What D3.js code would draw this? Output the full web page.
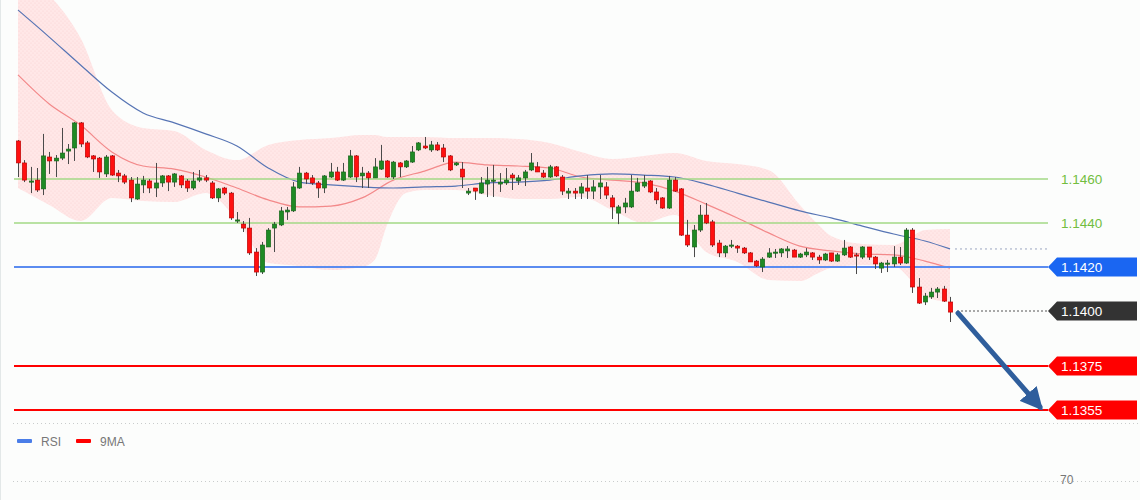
<!DOCTYPE html>
<html><head><meta charset="utf-8">
<script src="https://cdn.jsdelivr.net/npm/d3@7/dist/d3.min.js"></script>
<style>
html,body{margin:0;padding:0;background:#fcfdfc;}
svg{display:block;font-family:"Liberation Sans",Arial,sans-serif;}
</style></head>
<body><svg id="c" width="1140" height="500"></svg>
<script>
const open = [
1.14773,1.14673,1.14586,1.14595,1.14555,1.14700,1.14682,1.14695,1.14727,1.14741,
1.14855,1.14764,1.14705,1.14695,1.14623,1.14705,1.14627,1.14614,1.14595,1.14509,
1.14573,1.14591,1.14559,1.14582,1.14614,1.14586,1.14614,1.14591,1.14559,1.14595,
1.14605,1.14582,1.14514,1.14559,1.14536,1.14409,1.14395,1.14377,1.14268,1.14177,
1.14291,1.14377,1.14391,1.14450,1.14455,1.14559,1.14627,1.14605,1.14582,1.14559,
1.14609,1.14632,1.14595,1.14609,1.14705,1.14614,1.14627,1.14605,1.14645,1.14682,
1.14609,1.14673,1.14655,1.14677,1.14732,1.14750,1.14732,1.14755,1.14741,1.14705,
1.14664,1.14645,1.14536,1.14559,1.14536,1.14577,1.14591,1.14577,1.14582,1.14618,
1.14591,1.14605,1.14641,1.14655,1.14627,1.14609,1.14655,1.14609,1.14536,1.14545,
1.14536,1.14559,1.14545,1.14564,1.14564,1.14514,1.14445,1.14473,1.14473,1.14545,
1.14568,1.14591,1.14541,1.14514,1.14468,1.14595,1.14555,1.14345,1.14291,1.14368,
1.14436,1.14405,1.14309,1.14264,1.14295,1.14295,1.14286,1.14264,1.14227,1.14200,
1.14245,1.14264,1.14264,1.14273,1.14277,1.14245,1.14255,1.14264,1.14245,1.14232,
1.14264,1.14227,1.14255,1.14291,1.14255,1.14245,1.14291,1.14245,1.14195,1.14214,
1.14214,1.14245,1.14218,1.14368,1.14109,1.14041,1.14064,1.14086,1.14100,1.14041];
const high = [
1.14777,1.14686,1.14655,1.14650,1.14805,1.14723,1.14709,1.14832,1.14759,1.14859,
1.14859,1.14773,1.14709,1.14700,1.14709,1.14709,1.14641,1.14623,1.14609,1.14609,
1.14614,1.14600,1.14673,1.14618,1.14618,1.14627,1.14618,1.14600,1.14632,1.14641,
1.14618,1.14591,1.14559,1.14564,1.14541,1.14450,1.14409,1.14423,1.14286,1.14314,
1.14377,1.14405,1.14473,1.14473,1.14586,1.14655,1.14632,1.14618,1.14591,1.14618,
1.14673,1.14655,1.14673,1.14732,1.14709,1.14655,1.14636,1.14695,1.14755,1.14686,
1.14682,1.14677,1.14686,1.14750,1.14768,1.14791,1.14773,1.14768,1.14759,1.14709,
1.14677,1.14677,1.14559,1.14559,1.14609,1.14655,1.14664,1.14627,1.14650,1.14627,
1.14618,1.14641,1.14718,1.14677,1.14641,1.14664,1.14659,1.14618,1.14559,1.14559,
1.14582,1.14618,1.14595,1.14618,1.14586,1.14527,1.14482,1.14514,1.14618,1.14605,
1.14618,1.14595,1.14559,1.14518,1.14614,1.14609,1.14559,1.14414,1.14391,1.14482,
1.14491,1.14414,1.14323,1.14300,1.14323,1.14300,1.14291,1.14268,1.14232,1.14245,
1.14286,1.14282,1.14286,1.14295,1.14282,1.14264,1.14286,1.14268,1.14255,1.14264,
1.14264,1.14264,1.14323,1.14295,1.14264,1.14295,1.14291,1.14250,1.14223,1.14232,
1.14295,1.14291,1.14377,1.14377,1.14150,1.14082,1.14105,1.14109,1.14114,1.14064];
const low = [
1.14609,1.14586,1.14536,1.14541,1.14527,1.14623,1.14609,1.14686,1.14668,1.14682,
1.14745,1.14695,1.14632,1.14605,1.14609,1.14614,1.14586,1.14577,1.14495,1.14505,
1.14536,1.14536,1.14518,1.14564,1.14545,1.14564,1.14559,1.14541,1.14550,1.14586,
1.14586,1.14509,1.14495,1.14527,1.14414,1.14400,1.14359,1.14255,1.14159,1.14168,
1.14291,1.14268,1.14386,1.14414,1.14450,1.14555,1.14577,1.14573,1.14514,1.14536,
1.14605,1.14591,1.14591,1.14605,1.14586,1.14559,1.14559,1.14605,1.14641,1.14605,
1.14600,1.14609,1.14650,1.14673,1.14727,1.14736,1.14723,1.14727,1.14677,1.14636,
1.14659,1.14559,1.14527,1.14505,1.14532,1.14518,1.14518,1.14541,1.14573,1.14550,
1.14573,1.14568,1.14636,1.14632,1.14605,1.14605,1.14609,1.14527,1.14509,1.14509,
1.14509,1.14509,1.14509,1.14509,1.14509,1.14418,1.14395,1.14445,1.14468,1.14541,
1.14559,1.14536,1.14486,1.14464,1.14464,1.14541,1.14341,1.14291,1.14245,1.14359,
1.14395,1.14291,1.14245,1.14245,1.14286,1.14264,1.14259,1.14223,1.14200,1.14177,
1.14241,1.14241,1.14245,1.14241,1.14245,1.14241,1.14245,1.14232,1.14214,1.14227,
1.14223,1.14223,1.14250,1.14241,1.14168,1.14236,1.14232,1.14191,1.14173,1.14177,
1.14200,1.14209,1.14214,1.14082,1.14032,1.14027,1.14055,1.14059,1.14041,1.13950];
const close = [
1.14673,1.14595,1.14591,1.14550,1.14705,1.14682,1.14695,1.14718,1.14736,1.14855,
1.14759,1.14700,1.14691,1.14632,1.14700,1.14618,1.14614,1.14586,1.14514,1.14577,
1.14595,1.14559,1.14582,1.14614,1.14586,1.14623,1.14573,1.14559,1.14591,1.14605,
1.14595,1.14514,1.14555,1.14536,1.14423,1.14414,1.14377,1.14264,1.14177,1.14300,
1.14368,1.14395,1.14455,1.14459,1.14564,1.14627,1.14600,1.14582,1.14559,1.14614,
1.14632,1.14595,1.14632,1.14705,1.14609,1.14627,1.14605,1.14655,1.14682,1.14609,
1.14677,1.14655,1.14682,1.14723,1.14764,1.14741,1.14755,1.14732,1.14700,1.14641,
1.14673,1.14609,1.14545,1.14545,1.14582,1.14595,1.14595,1.14586,1.14595,1.14605,
1.14605,1.14632,1.14673,1.14632,1.14609,1.14655,1.14614,1.14545,1.14545,1.14536,
1.14564,1.14545,1.14564,1.14582,1.14527,1.14473,1.14473,1.14491,1.14545,1.14582,
1.14586,1.14541,1.14505,1.14468,1.14595,1.14545,1.14345,1.14300,1.14368,1.14436,
1.14400,1.14300,1.14264,1.14295,1.14300,1.14286,1.14264,1.14223,1.14205,1.14236,
1.14264,1.14268,1.14282,1.14282,1.14245,1.14259,1.14268,1.14245,1.14232,1.14259,
1.14227,1.14255,1.14286,1.14245,1.14250,1.14291,1.14245,1.14214,1.14218,1.14218,
1.14245,1.14218,1.14368,1.14109,1.14036,1.14068,1.14086,1.14100,1.14045,1.13995];

// moving averages (read at sampled candle indices)
const maIdx = [0,5,10,15,20,25,30,35,40,45,50,55,60,65,70,75,80,85,90,95,100,105,110,115,120,125,130,135,140,145,149];
const slowMA = [1.15368,1.15245,1.15118,1.14995,1.14900,1.14855,1.14805,1.14750,1.14650,1.14586,1.14573,1.14564,1.14559,1.14564,1.14568,1.14582,1.14586,1.14595,1.14614,1.14623,1.14618,1.14609,1.14577,1.14536,1.14495,1.14455,1.14423,1.14386,1.14350,1.14318,1.14282];
const fastMA = [1.15073,1.14941,1.14845,1.14723,1.14659,1.14645,1.14609,1.14559,1.14505,1.14473,1.14477,1.14514,1.14595,1.14636,1.14677,1.14664,1.14659,1.14650,1.14609,1.14595,1.14582,1.14545,1.14486,1.14423,1.14355,1.14295,1.14273,1.14259,1.14255,1.14227,1.14195];

// Bollinger band (read at sampled candle indices)
const bandIdx = [0,5,10,15,20,25,30,35,40,45,50,55,57,59,62,65,70,75,80,85,90,95,100,105,110,115,120,125,128,130,135,140,143,145,149];
const bandUpper = [1.15550,1.15436,1.15241,1.14914,1.14832,1.14818,1.14732,1.14686,1.14755,1.14777,1.14786,1.14800,1.14800,1.14791,1.14791,1.14791,1.14786,1.14786,1.14782,1.14764,1.14723,1.14691,1.14705,1.14718,1.14682,1.14668,1.14641,1.14482,1.14391,1.14341,1.14305,1.14300,1.14341,1.14368,1.14373];
const bandLower = [1.14559,1.14482,1.14409,1.14514,1.14500,1.14495,1.14536,1.14414,1.14218,1.14205,1.14186,1.14200,1.14232,1.14391,1.14536,1.14550,1.14550,1.14527,1.14509,1.14509,1.14518,1.14459,1.14400,1.14436,1.14268,1.14223,1.14141,1.14136,1.14173,1.14195,1.14209,1.14205,1.14132,1.14064,1.14041];

// levels
const greenLevels = [1.1460, 1.1440];
const tagLevels = [
  {price:1.1420, label:"1.1420", color:"#1a66f2", line:"#5b8cf0", kind:"solid"},
  {price:1.1400, label:"1.1400", color:"#333333", line:"#555555", kind:"dot"},
  {price:1.1375, label:"1.1375", color:"#ff0000", line:"#ff0000", kind:"solid"},
  {price:1.1355, label:"1.1355", color:"#ff0000", line:"#ff0000", kind:"solid"}
];
const legendItems = [{name:"RSI", color:"#4a7de8"}, {name:"9MA", color:"#ff0000"}];
const rsiTick = "70";

const svg = d3.select("#c");
const W = 1140;
const n = close.length;
const x = d3.scaleLinear().domain([0, n-1]).range([18, 950]);
const y = d3.scaleLinear().domain([1.1355, 1.1460]).range([410, 179]);

// frame line
svg.append("line").attr("x1",0.5).attr("x2",0.5).attr("y1",0).attr("y2",500).attr("stroke","#e3e8e8");

// pattern for band
const defs = svg.append("defs");
const pat = defs.append("pattern").attr("id","dots").attr("width",4).attr("height",4).attr("patternUnits","userSpaceOnUse");
pat.append("rect").attr("width",4).attr("height",4).attr("fill","#ffe7e7");
pat.append("circle").attr("cx",1).attr("cy",1).attr("r",0.6).attr("fill","#fad3d3");
pat.append("circle").attr("cx",3).attr("cy",3).attr("r",0.6).attr("fill","#fad3d3");
defs.append("clipPath").attr("id","clip").append("rect").attr("x",0).attr("y",0).attr("width",W).attr("height",420);

const plot = svg.append("g").attr("clip-path","url(#clip)");

const bandData = bandIdx.map((i,k)=>({i, u:bandUpper[k], l:bandLower[k]}));
plot.append("path").datum(bandData)
  .attr("d", d3.area().x(d=>x(d.i)).y0(d=>y(d.l)).y1(d=>y(d.u)).curve(d3.curveMonotoneX))
  .attr("fill","url(#dots)");

// green levels
greenLevels.forEach(p=>{
  svg.append("line").attr("x1",14).attr("x2",1048).attr("y1",y(p)).attr("y2",y(p))
    .attr("stroke","#a3d886").attr("stroke-width",1.3);
  svg.append("text").attr("x",1061).attr("y",y(p)+4.5).attr("fill","#72bd3f")
    .attr("font-size",13.5).text(p.toFixed(4));
});

// MA lines
const lineGen = d3.line().x(d=>x(d[0])).y(d=>y(d[1])).curve(d3.curveMonotoneX);
plot.append("path").datum(maIdx.map((i,k)=>[i,fastMA[k]])).attr("d",lineGen)
  .attr("fill","none").attr("stroke","#f3898a").attr("stroke-width",1.2);
plot.append("path").datum(maIdx.map((i,k)=>[i,slowMA[k]])).attr("d",lineGen)
  .attr("fill","none").attr("stroke","#5674b4").attr("stroke-width",1.2);

// dotted continuation of slow MA
const lastSlow = slowMA[slowMA.length-1];
svg.append("line").attr("x1",x(n-1)+5).attr("x2",1048).attr("y1",y(lastSlow)).attr("y2",y(lastSlow))
  .attr("stroke","#9aa6c0").attr("stroke-width",1).attr("stroke-dasharray","2,3");

// level lines
tagLevels.forEach(t=>{
  const yy = y(t.price);
  if (t.kind==="solid") {
    svg.append("line").attr("x1",14).attr("x2",1048).attr("y1",yy).attr("y2",yy)
      .attr("stroke",t.line).attr("stroke-width",2);
  } else {
    svg.append("line").attr("x1",x(n-1)+7).attr("x2",1048).attr("y1",yy).attr("y2",yy)
      .attr("stroke",t.line).attr("stroke-width",1).attr("stroke-dasharray","2,2");
  }
});

// candles
const cg = svg.append("g");
const bw = 4.4;
for (let i=0;i<n;i++){
  const up = close[i] >= open[i];
  const cx = Math.round(x(i))+0.5;
  cg.append("line").attr("x1",cx).attr("x2",cx).attr("y1",y(high[i])).attr("y2",y(low[i]))
    .attr("stroke","#4a4a4a").attr("stroke-width",1);
  const top = y(Math.max(open[i],close[i])), bot = y(Math.min(open[i],close[i]));
  cg.append("rect").attr("x",cx-bw/2).attr("y",top).attr("width",bw).attr("height",Math.max(1.2,bot-top))
    .attr("fill", up ? "#1f8a24" : "#ff1010")
    .attr("stroke", up ? "#17621a" : "#b30000").attr("stroke-width",0.6);
}

// arrow
defs.append("marker").attr("id","ah").attr("viewBox","0 0 10 10").attr("refX",8).attr("refY",5)
  .attr("markerWidth",4.5).attr("markerHeight",4.5).attr("orient","auto")
  .append("path").attr("d","M0,0 L10,5 L0,10 Z").attr("fill","#2f5e9c");
svg.append("line").attr("x1",x(n-1)+8).attr("y1",y(close[n-1])+1)
  .attr("x2",1040).attr("y2",y(1.1355)-3)
  .attr("stroke","#2f5e9c").attr("stroke-width",5).attr("stroke-linecap","round")
  .attr("marker-end","url(#ah)");

// tags
tagLevels.forEach(t=>{
  const yy = y(t.price);
  const h = 9.5;
  svg.append("path")
    .attr("d",`M1048,${yy} L1057,${yy-h} L1137,${yy-h} L1137,${yy+h} L1057,${yy+h} Z`)
    .attr("fill",t.color);
  svg.append("text").attr("x",1061).attr("y",yy+4.5).attr("fill","#ffffff")
    .attr("font-size",13.5).text(t.label);
});

// bottom separators
[423.5, 481.5].forEach(yy=>{
  svg.append("line").attr("x1",13).attr("x2",W).attr("y1",yy).attr("y2",yy)
    .attr("stroke","#c9cccc").attr("stroke-width",1).attr("stroke-dasharray","1,3");
});

// legend
let lx = 17;
legendItems.forEach(it=>{
  svg.append("rect").attr("x",lx).attr("y",439).attr("width",15).attr("height",4).attr("rx",1).attr("fill",it.color);
  svg.append("text").attr("x",lx+24).attr("y",446).attr("fill","#777").attr("font-size",12).text(it.name);
  lx += 59;
});
svg.append("text").attr("x",1060).attr("y",484).attr("fill","#777").attr("font-size",12).text(rsiTick);
</script></body></html>
